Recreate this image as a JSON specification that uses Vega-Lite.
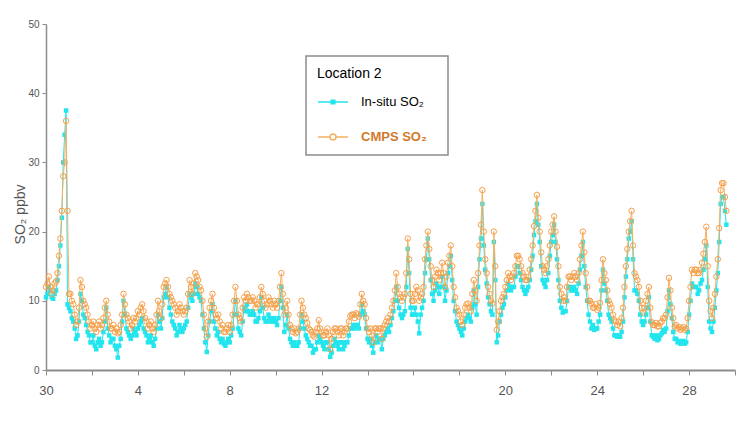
{
  "$schema": "https://vega.github.io/schema/vega-lite/v6.json",
  "width": 689,
  "height": 346,
  "autosize": {"type": "none"},
  "padding": {"left": 46, "top": 24, "right": 14, "bottom": 63},
  "background": "white",
  "config": {
    "view": {"stroke": null},
    "axis": {"domainColor": "#8c8c8c", "tickColor": "#8c8c8c", "labelColor": "#555555", "grid": false, "labelFont": "Liberation Sans Narrow, Liberation Sans", "titleFont": "Liberation Sans", "titleFontWeight": "normal"}
  },
  "data": {"values": [
    {"t":0,"cmps":12,"insitu":10.5},{"t":0.125,"cmps":13.5,"insitu":12},{"t":0.25,"cmps":11,"insitu":10.5},{"t":0.375,"cmps":12.5,"insitu":11},{"t":0.5,"cmps":14,"insitu":13},{"t":0.625,"cmps":19,"insitu":18},{"t":0.75,"cmps":28,"insitu":30},{"t":0.875,"cmps":36,"insitu":37.5},{"t":0.9375,"cmps":23,"insitu":9.5},
    {"t":1,"cmps":11,"insitu":9},{"t":1.125,"cmps":10,"insitu":7.5},{"t":1.25,"cmps":8,"insitu":6},{"t":1.375,"cmps":7,"insitu":5},{"t":1.5,"cmps":13,"insitu":11},{"t":1.625,"cmps":10,"insitu":8},{"t":1.75,"cmps":9,"insitu":6.5},{"t":1.875,"cmps":7,"insitu":5},
    {"t":2,"cmps":6.5,"insitu":4},{"t":2.125,"cmps":6,"insitu":3.5},{"t":2.25,"cmps":6.5,"insitu":4},{"t":2.375,"cmps":6,"insitu":3.5},{"t":2.5,"cmps":7.5,"insitu":5.5},{"t":2.625,"cmps":10,"insitu":9},{"t":2.75,"cmps":7,"insitu":5},{"t":2.875,"cmps":6,"insitu":4.5},
    {"t":3,"cmps":5.5,"insitu":3.5},{"t":3.125,"cmps":5.3,"insitu":1.8},{"t":3.25,"cmps":6.5,"insitu":4.5},{"t":3.375,"cmps":11,"insitu":10},{"t":3.5,"cmps":8,"insitu":6},{"t":3.625,"cmps":7,"insitu":5},{"t":3.75,"cmps":6.5,"insitu":5},{"t":3.875,"cmps":7,"insitu":5.5},
    {"t":4,"cmps":8.5,"insitu":6},{"t":4.125,"cmps":9,"insitu":7},{"t":4.25,"cmps":8.5,"insitu":6},{"t":4.375,"cmps":7,"insitu":5},{"t":4.5,"cmps":6.5,"insitu":4.5},{"t":4.625,"cmps":6,"insitu":4},{"t":4.75,"cmps":6.5,"insitu":4.5},{"t":4.875,"cmps":10,"insitu":8},
    {"t":5,"cmps":7.5,"insitu":6},{"t":5.125,"cmps":12,"insitu":10.5},{"t":5.25,"cmps":13,"insitu":12},{"t":5.375,"cmps":11,"insitu":9},{"t":5.5,"cmps":10,"insitu":7},{"t":5.625,"cmps":9,"insitu":6},{"t":5.75,"cmps":8.5,"insitu":5.5},{"t":5.875,"cmps":9,"insitu":6},
    {"t":6,"cmps":8,"insitu":6},{"t":6.125,"cmps":9,"insitu":7},{"t":6.25,"cmps":13,"insitu":11},{"t":6.375,"cmps":11,"insitu":10},{"t":6.5,"cmps":14,"insitu":12.5},{"t":6.625,"cmps":13,"insitu":11},{"t":6.75,"cmps":11.5,"insitu":10},{"t":6.875,"cmps":8,"insitu":6},
    {"t":7,"cmps":4.8,"insitu":2.6},{"t":7.125,"cmps":9,"insitu":7},{"t":7.25,"cmps":11,"insitu":9.5},{"t":7.375,"cmps":8,"insitu":6},{"t":7.5,"cmps":8,"insitu":5.5},{"t":7.625,"cmps":6,"insitu":4},{"t":7.75,"cmps":5.5,"insitu":3.8},{"t":7.875,"cmps":6,"insitu":4},
    {"t":8,"cmps":5.5,"insitu":4},{"t":8.125,"cmps":8,"insitu":6},{"t":8.25,"cmps":12,"insitu":10},{"t":8.375,"cmps":8,"insitu":6},{"t":8.5,"cmps":7,"insitu":5},{"t":8.625,"cmps":10.5,"insitu":9},{"t":8.75,"cmps":11,"insitu":9.5},{"t":8.875,"cmps":10,"insitu":8},
    {"t":9,"cmps":10.5,"insitu":8.5},{"t":9.125,"cmps":9,"insitu":7},{"t":9.25,"cmps":9.5,"insitu":7.5},{"t":9.375,"cmps":12,"insitu":10.5},{"t":9.5,"cmps":10,"insitu":7.5},{"t":9.625,"cmps":9.5,"insitu":7},{"t":9.75,"cmps":10,"insitu":7.5},{"t":9.875,"cmps":9,"insitu":7},
    {"t":10,"cmps":9.5,"insitu":7},{"t":10.125,"cmps":10,"insitu":7.5},{"t":10.25,"cmps":14,"insitu":12},{"t":10.375,"cmps":8,"insitu":5.5},{"t":10.5,"cmps":10,"insitu":8},{"t":10.625,"cmps":6.5,"insitu":4.5},{"t":10.75,"cmps":5.5,"insitu":3.5},{"t":10.875,"cmps":5.3,"insitu":3.5},
    {"t":11,"cmps":6,"insitu":4},{"t":11.125,"cmps":10,"insitu":8},{"t":11.25,"cmps":8,"insitu":6},{"t":11.375,"cmps":6.8,"insitu":4.5},{"t":11.5,"cmps":5.8,"insitu":3.5},{"t":11.625,"cmps":5,"insitu":2.5},{"t":11.75,"cmps":5.5,"insitu":3},{"t":11.875,"cmps":7.2,"insitu":5},
    {"t":12,"cmps":5.5,"insitu":4},{"t":12.125,"cmps":5,"insitu":3},{"t":12.25,"cmps":6,"insitu":4},{"t":12.375,"cmps":3,"insitu":1.9},{"t":12.5,"cmps":5.5,"insitu":3.5},{"t":12.625,"cmps":6,"insitu":4},{"t":12.75,"cmps":5,"insitu":3},{"t":12.875,"cmps":6,"insitu":4},
    {"t":13,"cmps":5.5,"insitu":3.5},{"t":13.125,"cmps":6,"insitu":4},{"t":13.25,"cmps":7.8,"insitu":6},{"t":13.375,"cmps":8,"insitu":6.5},{"t":13.5,"cmps":8.2,"insitu":6.5},{"t":13.625,"cmps":7.7,"insitu":6},{"t":13.75,"cmps":11,"insitu":9.5},{"t":13.875,"cmps":9.5,"insitu":8},
    {"t":14,"cmps":6,"insitu":4.5},{"t":14.125,"cmps":6,"insitu":4.5},{"t":14.25,"cmps":4,"insitu":2.5},{"t":14.375,"cmps":6,"insitu":5},{"t":14.5,"cmps":6,"insitu":4.5},{"t":14.625,"cmps":4.5,"insitu":3},{"t":14.75,"cmps":6.5,"insitu":5},{"t":14.875,"cmps":7.5,"insitu":6},
    {"t":15,"cmps":8,"insitu":6.5},{"t":15.125,"cmps":10,"insitu":8.5},{"t":15.25,"cmps":14,"insitu":12},{"t":15.375,"cmps":11,"insitu":9},{"t":15.5,"cmps":10,"insitu":7.5},{"t":15.625,"cmps":11,"insitu":8.5},{"t":15.75,"cmps":19,"insitu":17.5},{"t":15.875,"cmps":11,"insitu":9},
    {"t":16,"cmps":10,"insitu":8},{"t":16.125,"cmps":12,"insitu":8},{"t":16.25,"cmps":10,"insitu":5.3},{"t":16.375,"cmps":11,"insitu":9},{"t":16.5,"cmps":16,"insitu":14},{"t":16.625,"cmps":20,"insitu":19},{"t":16.75,"cmps":15,"insitu":13},{"t":16.875,"cmps":12,"insitu":10},
    {"t":17,"cmps":14.5,"insitu":12.5},{"t":17.125,"cmps":13,"insitu":11},{"t":17.25,"cmps":15.5,"insitu":13.5},{"t":17.375,"cmps":12,"insitu":10},{"t":17.5,"cmps":15.5,"insitu":14},{"t":17.625,"cmps":18,"insitu":16.5},{"t":17.75,"cmps":12,"insitu":10},{"t":17.875,"cmps":9,"insitu":7},
    {"t":18,"cmps":8,"insitu":6},{"t":18.125,"cmps":6.5,"insitu":5},{"t":18.25,"cmps":9,"insitu":7},{"t":18.375,"cmps":9.6,"insitu":8},{"t":18.5,"cmps":8.5,"insitu":7},{"t":18.625,"cmps":13,"insitu":11.5},{"t":18.75,"cmps":10,"insitu":8},{"t":18.875,"cmps":18,"insitu":16},
    {"t":19,"cmps":26,"insitu":24},{"t":19.125,"cmps":16,"insitu":14.5},{"t":19.25,"cmps":12,"insitu":10.5},{"t":19.375,"cmps":10,"insitu":8.5},{"t":19.5,"cmps":20,"insitu":18.5},{"t":19.625,"cmps":5.8,"insitu":4},{"t":19.75,"cmps":8.5,"insitu":7},{"t":19.875,"cmps":10.5,"insitu":9},
    {"t":20,"cmps":12,"insitu":10.5},{"t":20.125,"cmps":14,"insitu":12.5},{"t":20.25,"cmps":13,"insitu":11.5},{"t":20.375,"cmps":14,"insitu":12},{"t":20.5,"cmps":16.5,"insitu":15},{"t":20.625,"cmps":16,"insitu":14},{"t":20.75,"cmps":14,"insitu":12},{"t":20.875,"cmps":13,"insitu":11},
    {"t":21,"cmps":13.5,"insitu":12},{"t":21.125,"cmps":16,"insitu":14.5},{"t":21.25,"cmps":20.8,"insitu":19.5},{"t":21.375,"cmps":25.3,"insitu":24},{"t":21.5,"cmps":20,"insitu":18.5},{"t":21.625,"cmps":15,"insitu":13},{"t":21.75,"cmps":14,"insitu":12},{"t":21.875,"cmps":16,"insitu":14},
    {"t":22,"cmps":20,"insitu":18.5},{"t":22.125,"cmps":22.2,"insitu":21},{"t":22.25,"cmps":17.8,"insitu":16},{"t":22.375,"cmps":12,"insitu":10},{"t":22.5,"cmps":10,"insitu":8.3},{"t":22.625,"cmps":10,"insitu":8.5},{"t":22.75,"cmps":13.5,"insitu":12},{"t":22.875,"cmps":13,"insitu":11.5},
    {"t":23,"cmps":14,"insitu":12},{"t":23.125,"cmps":13,"insitu":11},{"t":23.25,"cmps":16,"insitu":14.5},{"t":23.375,"cmps":20,"insitu":18.5},{"t":23.5,"cmps":14,"insitu":12},{"t":23.625,"cmps":10,"insitu":8},{"t":23.75,"cmps":9.6,"insitu":6},{"t":23.875,"cmps":9,"insitu":5.8},
    {"t":24,"cmps":8.7,"insitu":6},{"t":24.125,"cmps":9.7,"insitu":8},{"t":24.25,"cmps":16,"insitu":14.5},{"t":24.375,"cmps":13,"insitu":11.5},{"t":24.5,"cmps":10,"insitu":8},{"t":24.625,"cmps":9,"insitu":7},{"t":24.75,"cmps":7.2,"insitu":5},{"t":24.875,"cmps":6.5,"insitu":4.8},
    {"t":25,"cmps":6.3,"insitu":4.8},{"t":25.125,"cmps":9,"insitu":7},{"t":25.25,"cmps":15,"insitu":13.5},{"t":25.375,"cmps":20,"insitu":19},{"t":25.5,"cmps":23,"insitu":21.5},{"t":25.625,"cmps":14,"insitu":11.5},{"t":25.75,"cmps":13,"insitu":11},{"t":25.875,"cmps":10,"insitu":8},
    {"t":26,"cmps":8.3,"insitu":6.5},{"t":26.125,"cmps":10,"insitu":8},{"t":26.25,"cmps":12,"insitu":10.5},{"t":26.375,"cmps":6.9,"insitu":5},{"t":26.5,"cmps":6.5,"insitu":4.5},{"t":26.625,"cmps":6.3,"insitu":4.3},{"t":26.75,"cmps":6.8,"insitu":5},{"t":26.875,"cmps":7.5,"insitu":5.8},
    {"t":27,"cmps":8,"insitu":6},{"t":27.125,"cmps":13.3,"insitu":11.5},{"t":27.25,"cmps":9,"insitu":7.5},{"t":27.375,"cmps":6.3,"insitu":4.5},{"t":27.5,"cmps":6,"insitu":4},{"t":27.625,"cmps":5.8,"insitu":3.8},{"t":27.75,"cmps":6.2,"insitu":4.2},{"t":27.875,"cmps":6,"insitu":4},
    {"t":28,"cmps":10,"insitu":8},{"t":28.125,"cmps":14.5,"insitu":12.5},{"t":28.25,"cmps":14.5,"insitu":12},{"t":28.375,"cmps":14,"insitu":11},{"t":28.5,"cmps":14.5,"insitu":12.5},{"t":28.625,"cmps":16.8,"insitu":14.5},{"t":28.75,"cmps":20.7,"insitu":18},{"t":28.875,"cmps":10,"insitu":7},
    {"t":29,"cmps":7.5,"insitu":5.5},{"t":29.125,"cmps":11,"insitu":9},{"t":29.25,"cmps":16,"insitu":14},{"t":29.375,"cmps":26,"insitu":24},{"t":29.5,"cmps":27,"insitu":25},{"t":29.625,"cmps":23,"insitu":21},
    {"t":0.0625,"cmps":12.5,"insitu":11},{"t":0.1875,"cmps":12,"insitu":11.5},{"t":0.3125,"cmps":11.5,"insitu":10.3},{"t":0.4375,"cmps":12.8,"insitu":11.5},{"t":0.5625,"cmps":16.5,"insitu":15},{"t":0.6875,"cmps":23,"insitu":22},{"t":0.8125,"cmps":30,"insitu":34},
    {"t":1.0625,"cmps":11,"insitu":8.5},{"t":1.1875,"cmps":9.5,"insitu":7},{"t":1.3125,"cmps":6.5,"insitu":4.5},{"t":1.4375,"cmps":9,"insitu":7},{"t":1.5625,"cmps":12,"insitu":10},{"t":1.6875,"cmps":9.5,"insitu":7.5},{"t":1.8125,"cmps":8,"insitu":5.5},{"t":1.9375,"cmps":6,"insitu":4},
    {"t":2.0625,"cmps":7,"insitu":5},{"t":2.1875,"cmps":5.5,"insitu":3},{"t":2.3125,"cmps":7,"insitu":4.5},{"t":2.4375,"cmps":6.5,"insitu":4},{"t":2.5625,"cmps":9,"insitu":7},{"t":2.6875,"cmps":8,"insitu":6},{"t":2.8125,"cmps":6,"insitu":4},{"t":2.9375,"cmps":6.5,"insitu":4.5},
    {"t":3.0625,"cmps":6,"insitu":3},{"t":3.1875,"cmps":5.5,"insitu":3.5},{"t":3.3125,"cmps":8,"insitu":7},{"t":3.4375,"cmps":9.5,"insitu":8},{"t":3.5625,"cmps":7.5,"insitu":5.5},{"t":3.6875,"cmps":6,"insitu":4.5},{"t":3.8125,"cmps":7.5,"insitu":6},{"t":3.9375,"cmps":7.5,"insitu":5},
    {"t":4.0625,"cmps":8,"insitu":6.5},{"t":4.1875,"cmps":9.5,"insitu":7.5},{"t":4.3125,"cmps":7.5,"insitu":5.5},{"t":4.4375,"cmps":6,"insitu":4},{"t":4.5625,"cmps":7,"insitu":5},{"t":4.6875,"cmps":5.5,"insitu":3.5},{"t":4.8125,"cmps":8,"insitu":6},{"t":4.9375,"cmps":8.5,"insitu":7},
    {"t":5.0625,"cmps":9.5,"insitu":7.5},{"t":5.1875,"cmps":12.5,"insitu":11},{"t":5.3125,"cmps":12,"insitu":10.5},{"t":5.4375,"cmps":10.5,"insitu":8},{"t":5.5625,"cmps":9.5,"insitu":6.5},{"t":5.6875,"cmps":8,"insitu":5},{"t":5.8125,"cmps":9.5,"insitu":6.5},{"t":5.9375,"cmps":8.5,"insitu":5.5},
    {"t":6.0625,"cmps":8.5,"insitu":6.5},{"t":6.1875,"cmps":11,"insitu":9},{"t":6.3125,"cmps":12,"insitu":10.5},{"t":6.4375,"cmps":12.5,"insitu":11},{"t":6.5625,"cmps":13.5,"insitu":12},{"t":6.6875,"cmps":12,"insitu":10.5},{"t":6.8125,"cmps":10,"insitu":8},{"t":6.9375,"cmps":6,"insitu":4},
    {"t":7.0625,"cmps":7,"insitu":5},{"t":7.1875,"cmps":10,"insitu":8.5},{"t":7.3125,"cmps":9,"insitu":7},{"t":7.4375,"cmps":7.5,"insitu":5},{"t":7.5625,"cmps":7,"insitu":4.5},{"t":7.6875,"cmps":6.5,"insitu":4.5},{"t":7.8125,"cmps":5.5,"insitu":3.5},{"t":7.9375,"cmps":6.5,"insitu":4.5},
    {"t":8.0625,"cmps":6.5,"insitu":5},{"t":8.1875,"cmps":10,"insitu":8},{"t":8.3125,"cmps":10,"insitu":8},{"t":8.4375,"cmps":7.5,"insitu":5.5},{"t":8.5625,"cmps":9,"insitu":7},{"t":8.6875,"cmps":10,"insitu":8.5},{"t":8.8125,"cmps":10.5,"insitu":8.5},{"t":8.9375,"cmps":10,"insitu":8},
    {"t":9.0625,"cmps":10,"insitu":8},{"t":9.1875,"cmps":9.5,"insitu":7},{"t":9.3125,"cmps":10.5,"insitu":8.5},{"t":9.4375,"cmps":11,"insitu":9},{"t":9.5625,"cmps":9,"insitu":7},{"t":9.6875,"cmps":10.5,"insitu":8},{"t":9.8125,"cmps":9.5,"insitu":7},{"t":9.9375,"cmps":10,"insitu":7.5},
    {"t":10.0625,"cmps":9,"insitu":6.5},{"t":10.1875,"cmps":12,"insitu":10},{"t":10.3125,"cmps":11,"insitu":9},{"t":10.4375,"cmps":9,"insitu":6.5},{"t":10.5625,"cmps":8,"insitu":6},{"t":10.6875,"cmps":6,"insitu":4},{"t":10.8125,"cmps":6,"insitu":4},{"t":10.9375,"cmps":5.5,"insitu":3.5},
    {"t":11.0625,"cmps":8,"insitu":6},{"t":11.1875,"cmps":9,"insitu":7},{"t":11.3125,"cmps":7.5,"insitu":5},{"t":11.4375,"cmps":6,"insitu":4},{"t":11.5625,"cmps":5.5,"insitu":3.5},{"t":11.6875,"cmps":4.8,"insitu":3},{"t":11.8125,"cmps":6,"insitu":4},{"t":11.9375,"cmps":6,"insitu":4.5},
    {"t":12.0625,"cmps":5,"insitu":3.5},{"t":12.1875,"cmps":5.5,"insitu":4},{"t":12.3125,"cmps":5,"insitu":3},{"t":12.4375,"cmps":4.5,"insitu":2.5},{"t":12.5625,"cmps":6,"insitu":4.5},{"t":12.6875,"cmps":5.5,"insitu":3.5},{"t":12.8125,"cmps":6,"insitu":4},{"t":12.9375,"cmps":5,"insitu":3},
    {"t":13.0625,"cmps":6,"insitu":4},{"t":13.1875,"cmps":7,"insitu":5},{"t":13.3125,"cmps":8,"insitu":6},{"t":13.4375,"cmps":7.5,"insitu":6},{"t":13.5625,"cmps":8,"insitu":6.5},{"t":13.6875,"cmps":9.5,"insitu":8},{"t":13.8125,"cmps":10,"insitu":8.5},{"t":13.9375,"cmps":7.5,"insitu":6},
    {"t":14.0625,"cmps":5.5,"insitu":4},{"t":14.1875,"cmps":5,"insitu":3.5},{"t":14.3125,"cmps":6,"insitu":4},{"t":14.4375,"cmps":5.5,"insitu":4},{"t":14.5625,"cmps":6,"insitu":4.5},{"t":14.6875,"cmps":6,"insitu":4.5},{"t":14.8125,"cmps":7,"insitu":5.5},{"t":14.9375,"cmps":7,"insitu":5.5},
    {"t":15.0625,"cmps":9,"insitu":7.5},{"t":15.1875,"cmps":11.5,"insitu":10},{"t":15.3125,"cmps":12,"insitu":10},{"t":15.4375,"cmps":10.5,"insitu":8},{"t":15.5625,"cmps":10.5,"insitu":8},{"t":15.6875,"cmps":14,"insitu":12},{"t":15.8125,"cmps":16,"insitu":14},{"t":15.9375,"cmps":10,"insitu":8},
    {"t":16.0625,"cmps":11,"insitu":9},{"t":16.1875,"cmps":11.5,"insitu":7},{"t":16.3125,"cmps":10.5,"insitu":8},{"t":16.4375,"cmps":12,"insitu":10},{"t":16.5625,"cmps":18,"insitu":16},{"t":16.6875,"cmps":17.5,"insitu":16},{"t":16.8125,"cmps":13,"insitu":11},{"t":16.9375,"cmps":13.5,"insitu":11.5},
    {"t":17.0625,"cmps":14,"insitu":12},{"t":17.1875,"cmps":14,"insitu":12},{"t":17.3125,"cmps":14,"insitu":12},{"t":17.4375,"cmps":13.5,"insitu":11.5},{"t":17.5625,"cmps":16.5,"insitu":15},{"t":17.6875,"cmps":15,"insitu":13},{"t":17.8125,"cmps":10.5,"insitu":8.5},{"t":17.9375,"cmps":8.5,"insitu":6.5},
    {"t":18.0625,"cmps":7,"insitu":5.5},{"t":18.1875,"cmps":8,"insitu":6},{"t":18.3125,"cmps":9.5,"insitu":7.5},{"t":18.4375,"cmps":9,"insitu":7.5},{"t":18.5625,"cmps":11,"insitu":9},{"t":18.6875,"cmps":11.5,"insitu":9.5},{"t":18.8125,"cmps":14,"insitu":12},{"t":18.9375,"cmps":21,"insitu":19},
    {"t":19.0625,"cmps":20,"insitu":18},{"t":19.1875,"cmps":14,"insitu":12.5},{"t":19.3125,"cmps":11,"insitu":9.5},{"t":19.4375,"cmps":9.6,"insitu":8},{"t":19.5625,"cmps":15,"insitu":13},{"t":19.6875,"cmps":7,"insitu":5},{"t":19.8125,"cmps":10,"insitu":8},{"t":19.9375,"cmps":11,"insitu":9.5},
    {"t":20.0625,"cmps":13,"insitu":11.5},{"t":20.1875,"cmps":13.5,"insitu":12},{"t":20.3125,"cmps":13.5,"insitu":12},{"t":20.4375,"cmps":15,"insitu":13.5},{"t":20.5625,"cmps":16.5,"insitu":15},{"t":20.6875,"cmps":15,"insitu":13},{"t":20.8125,"cmps":13.5,"insitu":11.5},{"t":20.9375,"cmps":13,"insitu":11.5},
    {"t":21.0625,"cmps":14.5,"insitu":13},{"t":21.1875,"cmps":18,"insitu":16.5},{"t":21.3125,"cmps":23,"insitu":21.5},{"t":21.4375,"cmps":22,"insitu":21},{"t":21.5625,"cmps":17,"insitu":15},{"t":21.6875,"cmps":14.5,"insitu":12.5},{"t":21.8125,"cmps":15,"insitu":13},{"t":21.9375,"cmps":18,"insitu":16.5},
    {"t":22.0625,"cmps":21,"insitu":19.5},{"t":22.1875,"cmps":20,"insitu":18.5},{"t":22.3125,"cmps":15,"insitu":13},{"t":22.4375,"cmps":11,"insitu":9},{"t":22.5625,"cmps":10.5,"insitu":8.5},{"t":22.6875,"cmps":12,"insitu":10},{"t":22.8125,"cmps":13.5,"insitu":12},{"t":22.9375,"cmps":13.5,"insitu":11.5},
    {"t":23.0625,"cmps":13.5,"insitu":11.5},{"t":23.1875,"cmps":14,"insitu":12.5},{"t":23.3125,"cmps":18,"insitu":16.5},{"t":23.4375,"cmps":17,"insitu":15},{"t":23.5625,"cmps":12,"insitu":10},{"t":23.6875,"cmps":10,"insitu":7},{"t":23.8125,"cmps":9,"insitu":6.5},{"t":23.9375,"cmps":9.5,"insitu":6},
    {"t":24.0625,"cmps":9,"insitu":7},{"t":24.1875,"cmps":13,"insitu":11.5},{"t":24.3125,"cmps":14,"insitu":12.5},{"t":24.4375,"cmps":11.5,"insitu":10},{"t":24.5625,"cmps":9.5,"insitu":7.5},{"t":24.6875,"cmps":8,"insitu":6},{"t":24.8125,"cmps":7,"insitu":5},{"t":24.9375,"cmps":7,"insitu":5},
    {"t":25.0625,"cmps":7.5,"insitu":5.5},{"t":25.1875,"cmps":12,"insitu":10.5},{"t":25.3125,"cmps":17.5,"insitu":16},{"t":25.4375,"cmps":21.5,"insitu":20},{"t":25.5625,"cmps":18,"insitu":16},{"t":25.6875,"cmps":13.5,"insitu":11.5},{"t":25.8125,"cmps":12,"insitu":10},{"t":25.9375,"cmps":9,"insitu":7},
    {"t":26.0625,"cmps":9,"insitu":7},{"t":26.1875,"cmps":11,"insitu":9},{"t":26.3125,"cmps":9,"insitu":7},{"t":26.4375,"cmps":6.5,"insitu":4.8},{"t":26.5625,"cmps":6.8,"insitu":5},{"t":26.6875,"cmps":6.3,"insitu":4.5},{"t":26.8125,"cmps":7,"insitu":5.3},{"t":26.9375,"cmps":7.5,"insitu":5.5},
    {"t":27.0625,"cmps":10.5,"insitu":8.5},{"t":27.1875,"cmps":11.5,"insitu":9.5},{"t":27.3125,"cmps":7.5,"insitu":5.5},{"t":27.4375,"cmps":6.5,"insitu":4.5},{"t":27.5625,"cmps":6.2,"insitu":4.2},{"t":27.6875,"cmps":6,"insitu":4},{"t":27.8125,"cmps":5.8,"insitu":3.8},{"t":27.9375,"cmps":7.5,"insitu":5.5},
    {"t":28.0625,"cmps":12,"insitu":10},{"t":28.1875,"cmps":14,"insitu":12},{"t":28.3125,"cmps":14.5,"insitu":12},{"t":28.4375,"cmps":14,"insitu":11.5},{"t":28.5625,"cmps":15.5,"insitu":13},{"t":28.6875,"cmps":18.5,"insitu":16},{"t":28.8125,"cmps":15,"insitu":12},{"t":28.9375,"cmps":8.5,"insitu":6},
    {"t":29.0625,"cmps":9,"insitu":7},{"t":29.1875,"cmps":13.5,"insitu":11.5},{"t":29.3125,"cmps":20.5,"insitu":18.5},{"t":29.4375,"cmps":27,"insitu":25},{"t":29.5625,"cmps":25,"insitu":23}
  ]},
  "encoding": {
    "x": {"field": "t", "type": "quantitative", "scale": {"domain": [0, 30], "nice": false, "zero": false},
      "axis": {"title": null, "values": [0,2,4,6,8,10,12,14,16,18,20,22,24,26,28,30],
        "labelExpr": "datum.value % 4 == 0 && datum.value != 16 && datum.value < 30 ? (datum.value == 0 ? '30' : datum.label) : ''",
        "tickSize": 5, "labelPadding": 9, "labelFontSize": 13, "domainWidth": 2, "labelFlush": false}}
  },
  "layer": [
    {"mark": {"type": "line", "strokeWidth": 1},
     "encoding": {
       "y": {"field": "insitu", "type": "quantitative", "scale": {"domain": [0, 50], "nice": false},
         "axis": {"title": "SO₂ ppbv", "values": [0,5,10,15,20,25,30,35,40,45,50],
           "labelExpr": "datum.value % 10 == 0 ? datum.label : ''", "tickSize": 4, "labelPadding": 3, "labelFontSize": 10,
           "titleFontSize": 14, "titleColor": "#555555", "titleX": -22, "titleY": 190, "titleAngle": -90, "titleAlign": "center", "titleBaseline": "alphabetic", "domainWidth": 1.5}},
       "color": {"datum": "In-situ SO₂", "type": "nominal",
         "scale": {"domain": ["In-situ SO₂", "CMPS SO₂"], "range": ["#22e5ee", "#f8b062"]},
         "legend": {"orient": "none", "legendX": 260, "legendY": 32, "title": "Location 2",
           "titleFontSize": 14, "titleFont": "Liberation Sans Narrow, Liberation Sans", "titleFontWeight": "normal", "titleColor": "#000000", "titlePadding": 5,
           "padding": 11, "strokeColor": "#8c8c8c", "fillColor": "white",
           "symbolSize": 900, "labelOffset": 12, "labelFontSize": 13, "labelFont": "Liberation Sans Narrow, Liberation Sans",
           "rowPadding": 12, "labelExpr": "datum.label + '\u2800'",
           "encode": {
             "legend": {"update": {"strokeWidth": {"value": 1.5}}},
             "symbols": {"update": {
               "shape": {"signal": "datum.value == 'In-situ SO₂' ? 'M-1,0L1,0M-0.12,-0.12L0.12,-0.12L0.12,0.12L-0.12,0.12Z' : 'M-1,0L-0.2,0M0.2,0L1,0M0.2,0A0.2,0.2,0,1,1,-0.2,0A0.2,0.2,0,1,1,0.2,0Z'"},
               "fill": {"signal": "datum.value == 'In-situ SO₂' ? '#22e5ee' : 'white'"},
               "fillOpacity": {"value": 1},
               "strokeWidth": {"value": 1.5}
             }},
             "labels": {"update": {
               "fill": {"signal": "datum.value == 'CMPS SO₂' ? '#d27a2c' : '#000000'"},
               "fontWeight": {"signal": "datum.value == 'CMPS SO₂' ? 'bold' : 'normal'"},
               "font": {"signal": "datum.value == 'CMPS SO₂' ? 'Liberation Sans' : 'Liberation Sans Narrow, Liberation Sans'"}
             }}
           }}}
     }},
    {"mark": {"type": "point", "shape": "square", "filled": true, "color": "#22e5ee", "size": 20, "opacity": 1},
     "encoding": {"y": {"field": "insitu", "type": "quantitative"}}},
    {"mark": {"type": "line", "strokeWidth": 1},
     "encoding": {
       "y": {"field": "cmps", "type": "quantitative"},
       "color": {"datum": "CMPS SO₂", "type": "nominal"}
     }},
    {"mark": {"type": "point", "shape": "circle", "filled": false, "color": "#f5a04a", "size": 30, "strokeWidth": 1, "opacity": 1},
     "encoding": {"y": {"field": "cmps", "type": "quantitative"}}}
  ]
}
